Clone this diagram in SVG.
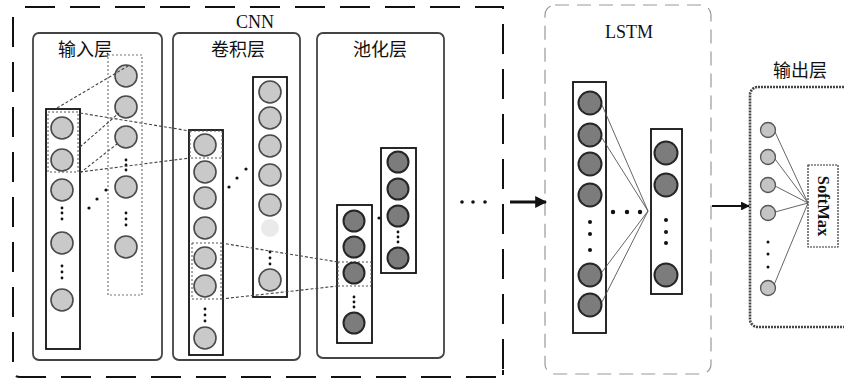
<svg xmlns="http://www.w3.org/2000/svg" width="844" height="380" viewBox="0 0 844 380">
<defs>
<style>
.panel{fill:none;stroke:#444;stroke-width:1.8}
.col{fill:#fff;stroke:#111;stroke-width:1.8}
.colDot{fill:#fff;stroke:#777;stroke-width:1.2;stroke-dasharray:2 2}
.sel{fill:none;stroke:#555;stroke-width:1;stroke-dasharray:2 2}
.cl{fill:#c9c9c9;stroke:#4a4a4a;stroke-width:1.6}
.cd{fill:#7c7c7c;stroke:#262626;stroke-width:2}
.co{fill:#c4c4c4;stroke:#555;stroke-width:1.3}
.dot{fill:#111}
.dash{fill:none;stroke:#444;stroke-width:1.1;stroke-dasharray:3 2}
.thin{fill:none;stroke:#555;stroke-width:0.9}
.zh{font-family:"Noto Sans CJK SC","Noto Sans",sans-serif;font-size:18px;fill:#111}
.lat{font-family:"Liberation Serif",serif;font-size:18px;fill:#111}
</style>
<marker id="ah" viewBox="0 0 10 10" refX="9" refY="5" markerWidth="4" markerHeight="4" orient="auto" markerUnits="strokeWidth">
<path d="M0,0 L10,5 L0,10 z" fill="#111"/>
</marker>
</defs>
<rect width="844" height="380" fill="#fff"/>

<g id="cnn">
<path d="M25,7 H503 V370 M503,370 V375 M496,377 H20 Q13,377 13,370 V12" fill="none" stroke="#111" stroke-width="2" stroke-dasharray="30 15"/>
<text class="lat" x="255" y="28" text-anchor="middle">CNN</text>
</g>

<g id="input-layer">
<rect class="panel" x="33" y="33" width="129" height="327" rx="6"/>
<text class="zh" x="85" y="56" text-anchor="middle">输入层</text>
<rect class="colDot" x="108" y="55" width="34" height="240"/>
<circle class="cl" cx="126" cy="76" r="11"/>
<circle class="cl" cx="126" cy="107" r="11"/>
<circle class="cl" cx="126" cy="137" r="11"/>
<circle class="dot" cx="126" cy="160" r="1.4"/><circle class="dot" cx="126" cy="165" r="1.4"/><circle class="dot" cx="126" cy="170" r="1.4"/>
<circle class="cl" cx="126" cy="187" r="11"/>
<circle class="dot" cx="126" cy="213" r="1.4"/><circle class="dot" cx="126" cy="219" r="1.4"/><circle class="dot" cx="126" cy="225" r="1.4"/>
<circle class="cl" cx="126" cy="247" r="11"/>
<rect class="col" x="46" y="109" width="34" height="240"/>
<rect class="sel" x="48" y="112" width="30" height="60"/>
<circle class="cl" cx="62" cy="128" r="11"/>
<circle class="cl" cx="62" cy="160" r="11"/>
<circle class="cl" cx="62" cy="190" r="11"/>
<circle class="dot" cx="62" cy="208" r="1.4"/><circle class="dot" cx="62" cy="213" r="1.4"/><circle class="dot" cx="62" cy="219" r="1.4"/>
<circle class="cl" cx="62" cy="243" r="11"/>
<circle class="dot" cx="62" cy="266" r="1.4"/><circle class="dot" cx="62" cy="272" r="1.4"/><circle class="dot" cx="62" cy="278" r="1.4"/>
<circle class="cl" cx="62" cy="300" r="11"/>
<circle class="dot" cx="89" cy="208" r="1.6"/><circle class="dot" cx="97" cy="199" r="1.6"/><circle class="dot" cx="106" cy="190" r="1.6"/>
</g>

<g id="conv-layer">
<rect class="panel" x="173" y="33" width="127" height="327" rx="6"/>
<text class="zh" x="238" y="56" text-anchor="middle">卷积层</text>
<rect class="col" x="253" y="77" width="34" height="220"/>
<circle class="cl" cx="270" cy="92" r="11"/>
<circle class="cl" cx="270" cy="118" r="11"/>
<circle class="cl" cx="270" cy="146" r="11"/>
<circle class="cl" cx="270" cy="175" r="11"/>
<circle class="cl" cx="270" cy="205" r="11"/>
<circle cx="270" cy="228" r="9" fill="#eaeaea"/>
<circle class="dot" cx="270" cy="252" r="1.4"/><circle class="dot" cx="270" cy="258" r="1.4"/><circle class="dot" cx="270" cy="264" r="1.4"/>
<circle class="cl" cx="270" cy="280" r="11"/>
<rect class="col" x="189" y="130" width="34" height="225"/>
<rect class="sel" x="190" y="131" width="32" height="27"/>
<rect class="sel" x="192" y="243" width="29" height="56"/>
<circle class="cl" cx="205" cy="145" r="11"/>
<circle class="cl" cx="205" cy="172" r="11"/>
<circle class="cl" cx="205" cy="198" r="11"/>
<circle class="cl" cx="205" cy="228" r="11"/>
<circle class="cl" cx="205" cy="258" r="11"/>
<circle class="cl" cx="205" cy="286" r="11"/>
<circle class="dot" cx="205" cy="309" r="1.4"/><circle class="dot" cx="205" cy="315" r="1.4"/><circle class="dot" cx="205" cy="321" r="1.4"/>
<circle class="cl" cx="205" cy="338" r="11"/>
<circle class="dot" cx="229" cy="187" r="1.6"/><circle class="dot" cx="237" cy="178" r="1.6"/><circle class="dot" cx="246" cy="169" r="1.6"/>
</g>

<g id="pool-layer">
<rect class="panel" x="317" y="33" width="127" height="325" rx="6"/>
<text class="zh" x="380" y="56" text-anchor="middle">池化层</text>
<rect class="col" x="381" y="148" width="35" height="125"/>
<circle class="cd" cx="398" cy="162" r="10.5"/>
<circle class="cd" cx="398" cy="189" r="10.5"/>
<circle class="cd" cx="398" cy="216" r="10.5"/>
<circle class="dot" cx="398" cy="232" r="1.4"/><circle class="dot" cx="398" cy="237" r="1.4"/><circle class="dot" cx="398" cy="242" r="1.4"/>
<circle class="cd" cx="398" cy="258" r="10.5"/>
<circle class="dot" cx="379" cy="218" r="1.6"/>
<rect class="col" x="337" y="205" width="35" height="138"/>
<rect class="sel" x="338" y="262" width="33" height="24"/>
<circle class="cd" cx="354" cy="221" r="10.5"/>
<circle class="cd" cx="354" cy="247" r="10.5"/>
<circle class="cd" cx="354" cy="273" r="10.5"/>
<circle class="dot" cx="354" cy="297" r="1.4"/><circle class="dot" cx="354" cy="302" r="1.4"/><circle class="dot" cx="354" cy="307" r="1.4"/>
<circle class="cd" cx="354" cy="323" r="10.5"/>
<circle class="dot" cx="462" cy="202" r="1.8"/><circle class="dot" cx="473" cy="202" r="1.8"/><circle class="dot" cx="485" cy="202" r="1.8"/>
</g>

<g id="lstm">
<rect x="545" y="5" width="166" height="369" rx="10" fill="none" stroke="#999" stroke-width="1.2" stroke-dasharray="14 8"/>
<text class="lat" x="629" y="38" text-anchor="middle">LSTM</text>
<rect class="col" x="573" y="82" width="33" height="251"/>
<circle class="cd" cx="590" cy="103" r="11.5"/>
<circle class="cd" cx="590" cy="135" r="11.5"/>
<circle class="cd" cx="590" cy="164" r="11.5"/>
<circle class="cd" cx="590" cy="195" r="11.5"/>
<circle class="dot" cx="590" cy="222" r="2"/><circle class="dot" cx="590" cy="234" r="2"/><circle class="dot" cx="590" cy="250" r="2"/>
<circle class="cd" cx="590" cy="275" r="11.5"/>
<circle class="cd" cx="590" cy="305" r="11.5"/>
<rect class="col" x="651" y="129" width="31" height="165"/>
<circle class="cd" cx="666" cy="153" r="11.5"/>
<circle class="cd" cx="666" cy="185" r="11.5"/>
<circle class="dot" cx="666" cy="220" r="2"/><circle class="dot" cx="666" cy="232" r="2"/><circle class="dot" cx="666" cy="243" r="2"/>
<circle class="cd" cx="666" cy="275" r="11.5"/>
<circle class="dot" cx="613" cy="212" r="2.2"/><circle class="dot" cx="627" cy="212" r="2.2"/><circle class="dot" cx="640" cy="212" r="2.2"/>
</g>

<g id="output-layer">
<text class="zh" x="800" y="77" text-anchor="middle">输出层</text>
<rect x="750" y="87" width="130" height="240" rx="8" fill="none" stroke="#444" stroke-width="2.6" stroke-dasharray="2 1"/>
<circle class="co" cx="768" cy="130" r="7.5"/>
<circle class="co" cx="768" cy="157" r="7.5"/>
<circle class="co" cx="768" cy="185" r="7.5"/>
<circle class="co" cx="768" cy="213" r="7.5"/>
<circle class="dot" cx="768" cy="242" r="1.5"/><circle class="dot" cx="768" cy="254" r="1.5"/><circle class="dot" cx="768" cy="267" r="1.5"/>
<circle class="co" cx="768" cy="288" r="7.5"/>
<rect x="808" y="165" width="30" height="82" fill="#fff" stroke="#333" stroke-width="1.2" stroke-dasharray="2 1"/>
<text x="823" y="206" transform="rotate(90 823 206)" text-anchor="middle" dominant-baseline="central" font-family="Liberation Serif,serif" font-weight="bold" font-size="16.5" fill="#111">SoftMax</text>
</g>

<g id="connectors">
<line class="dash" x1="57" y1="108" x2="128" y2="66"/>
<line class="dash" x1="80" y1="147" x2="119" y2="113"/>
<line class="dash" x1="80" y1="173" x2="117" y2="144"/>
<line class="dash" x1="80" y1="113" x2="190" y2="131"/>
<line class="dash" x1="80" y1="172" x2="190" y2="158"/>
<line class="dash" x1="221" y1="243" x2="338" y2="262"/>
<line class="dash" x1="221" y1="299" x2="338" y2="286"/>
<line x1="510" y1="202" x2="546" y2="202" stroke="#111" stroke-width="3" marker-end="url(#ah)"/>
<line x1="712" y1="206" x2="749" y2="206" stroke="#111" stroke-width="2.2" marker-end="url(#ah)"/>
<line class="thin" x1="602" y1="105" x2="648" y2="211"/>
<line class="thin" x1="602" y1="138" x2="648" y2="211"/>
<line class="thin" x1="602" y1="272" x2="648" y2="211"/>
<line class="thin" x1="602" y1="302" x2="648" y2="211"/>
<line class="thin" x1="775" y1="132" x2="808" y2="203"/>
<line class="thin" x1="775" y1="159" x2="808" y2="203"/>
<line class="thin" x1="775" y1="186" x2="808" y2="203"/>
<line class="thin" x1="775" y1="212" x2="808" y2="203"/>
<line class="thin" x1="774" y1="285" x2="808" y2="203"/>
</g>
</svg>
